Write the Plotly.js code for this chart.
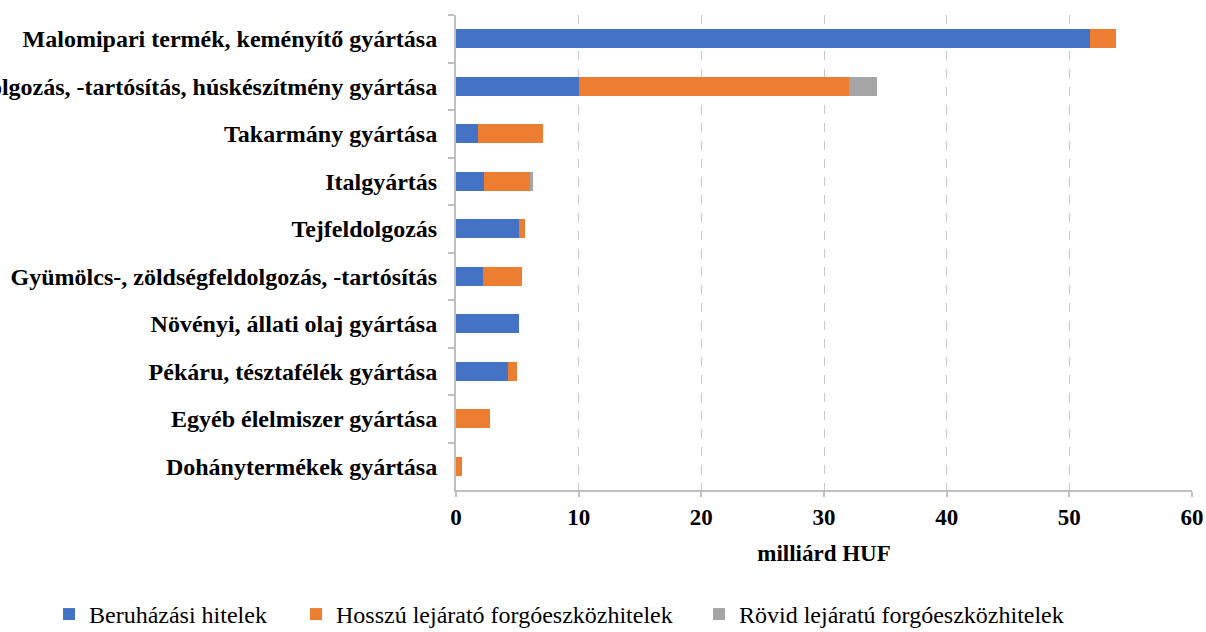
<!DOCTYPE html>
<html>
<head>
<meta charset="utf-8">
<script src="https://cdn.plot.ly/plotly-3.0.1.min.js"></script>
<style>html,body{margin:0;padding:0;background:#fff;}#chart{width:1206px;height:632px;}</style>
</head>
<body>
<div id="chart"></div>
<script>
const categories = [
  "Malomipari termék, keményítő gyártása",
  "Húsfeldolgozás, -tartósítás, húskészítmény gyártása",
  "Takarmány gyártása",
  "Italgyártás",
  "Tejfeldolgozás",
  "Gyümölcs-, zöldségfeldolgozás, -tartósítás",
  "Növényi, állati olaj gyártása",
  "Pékáru, tésztafélék gyártása",
  "Egyéb élelmiszer gyártása",
  "Dohánytermékek gyártása"
];
const seriesNames = ["Beruházási hitelek", "Hosszú lejárató forgóeszközhitelek", "Rövid lejáratú forgóeszközhitelek"];
const beruhazasi = [51.7, 10.0, 1.8, 2.3, 5.15, 2.2, 5.1, 4.2, 0.0, 0.0];
const hosszu    = [2.1, 22.0, 5.3, 3.7, 0.5, 3.15, 0.0, 0.75, 2.75, 0.5];
const rovid     = [0.0, 2.3, 0.0, 0.25, 0.0, 0.0, 0.0, 0.0, 0.0, 0.0];
const xTicks = [0, 10, 20, 30, 40, 50, 60];

const colors = ["#4472C4", "#ED7D31", "#A5A5A5"];
const legendWidths = [202, 358, 340];
const values = [beruhazasi, hosszu, rovid];

const traces = values.map((v, i) => ({
  type: "bar",
  orientation: "h",
  name: seriesNames[i],
  x: v,
  y: categories,
  legendwidth: legendWidths[i],
  marker: {color: colors[i], line: {width: 0}},
  hoverinfo: "x+y+name"
}));

const FAM = "Liberation Serif";

const layout = {
  width: 1206,
  height: 632,
  margin: {l: 456, r: 14, t: 15, b: 142, autoexpand: false},
  barmode: "stack",
  bargap: 0.59,
  paper_bgcolor: "#fff",
  plot_bgcolor: "#fff",
  font: {family: FAM, size: 24, color: "#000"},
  xaxis: {
    range: [0, 60],
    tickvals: xTicks,
    ticktext: xTicks.map(String),
    tickfont: {family: FAM, size: 23, weight: "bold", color: "#000"},
    showgrid: true,
    gridcolor: "#c8c8c8",
    griddash: "dash",
    gridwidth: 1,
    zeroline: false,
    showline: true,
    linecolor: "#bfbfbf",
    linewidth: 2,
    ticks: "outside",
    ticklen: 5,
    tickcolor: "#bfbfbf",
    tickwidth: 2,
    title: {text: "milliárd HUF", font: {family: FAM, size: 23, weight: "bold", color: "#000"}, standoff: 16},
    fixedrange: true
  },
  yaxis: {
    type: "category",
    autorange: "reversed",
    tickson: "boundaries",
    ticks: "outside",
    ticklen: 6,
    tickcolor: "#bfbfbf",
    tickwidth: 2,
    showgrid: false,
    showline: true,
    linecolor: "#bfbfbf",
    linewidth: 2,
    tickfont: {family: FAM, size: 24, weight: "bold", color: "#000"},
    ticklabelstandoff: 12,
    fixedrange: true
  },
  showlegend: true,
  legend: {
    orientation: "h",
    xref: "paper",
    yref: "paper",
    x: -0.553,
    xanchor: "left",
    y: -0.262,
    yanchor: "middle",
    font: {family: FAM, size: 24, color: "#000"},
    traceorder: "normal",
    itemwidth: 30
  }
};

Plotly.newPlot("chart", traces, layout, {displayModeBar: false, staticPlot: true});
</script>
</body>
</html>
